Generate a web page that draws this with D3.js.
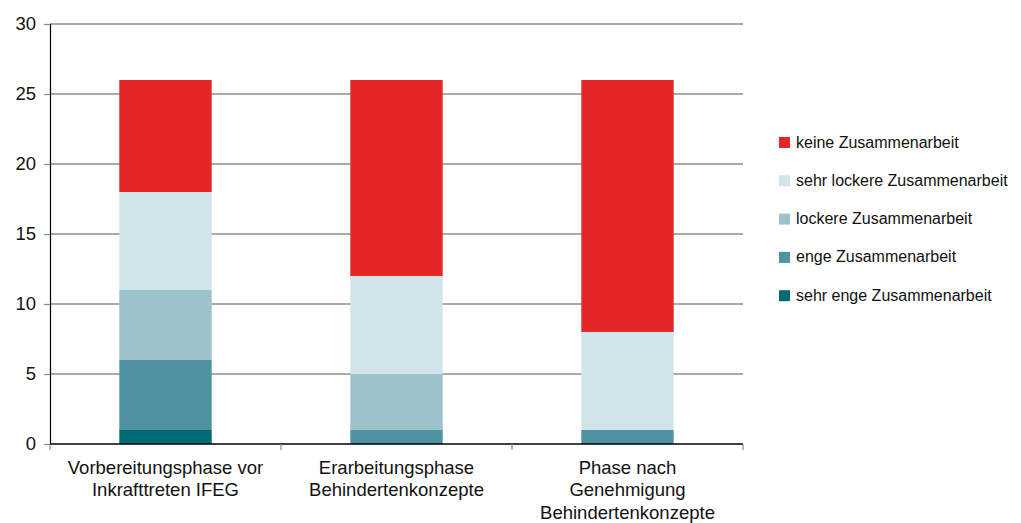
<!DOCTYPE html>
<html>
<head>
<meta charset="utf-8">
<script src="https://cdn.jsdelivr.net/npm/d3@7"></script>
<style>
  html, body { margin: 0; padding: 0; background: #fff; }
  svg { display: block; font-family: "Liberation Sans", Arial, sans-serif; }
</style>
</head>
<body>
<svg id="chart" width="1021" height="523"></svg>
<script>
// Phases (x categories), each label split into lines
const categories = [
  ["Vorbereitungsphase vor", "Inkrafttreten IFEG"],
  ["Erarbeitungsphase", "Behindertenkonzepte"],
  ["Phase nach", "Genehmigung", "Behindertenkonzepte"]
];

// Series, stacked from the bottom up
const seriesNames = [
  "sehr enge Zusammenarbeit",
  "enge Zusammenarbeit",
  "lockere Zusammenarbeit",
  "sehr lockere Zusammenarbeit",
  "keine Zusammenarbeit"
];
const sehrEng   = [1, 0, 0];
const eng       = [5, 1, 1];
const locker    = [5, 4, 0];
const sehrLocker= [7, 7, 7];
const keine     = [8, 14, 18];

const colors = ["#006A75", "#4F93A3", "#9CC2CA", "#D0E4E9", "#E32626"];
const yTicks = [0, 5, 10, 15, 20, 25, 30];

const values = [sehrEng, eng, locker, sehrLocker, keine];
const rows = categories.map((c, i) => {
  const r = { key: i };
  seriesNames.forEach((s, j) => r[s] = values[j][i]);
  return r;
});

const svg = d3.select("#chart");
const plotLeft = 50, plotRight = 743, plotTop = 24, plotBottom = 444;

const x = d3.scaleBand().domain(d3.range(categories.length))
  .range([plotLeft, plotRight]).paddingInner(0.6).paddingOuter(0.3);
const xEdges = d3.scaleLinear().domain([0, categories.length]).range([plotLeft, plotRight]);
const y = d3.scaleLinear().domain([0, 30]).range([plotBottom, plotTop]);

// Horizontal gridlines
svg.append("g").selectAll("line").data(yTicks.filter(d => d > 0)).join("line")
  .attr("x1", plotLeft).attr("x2", plotRight)
  .attr("y1", d => y(d)).attr("y2", d => y(d))
  .attr("stroke", "#8c8c8c").attr("stroke-width", 1.5);

// Stacked bars
const stack = d3.stack().keys(seriesNames)(rows);
svg.append("g").selectAll("g").data(stack).join("g")
  .attr("fill", (d, i) => colors[i])
  .selectAll("rect").data(d => d.filter(p => p[1] > p[0])).join("rect")
  .attr("x", d => x(d.data.key))
  .attr("width", x.bandwidth())
  .attr("y", d => y(d[1]))
  .attr("height", d => y(d[0]) - y(d[1]));

// Y axis
const yAxis = svg.append("g").attr("transform", `translate(${plotLeft},0)`)
  .call(d3.axisLeft(y).tickValues(yTicks).tickSize(6).tickPadding(8));
yAxis.attr("font-size", null).attr("font-family", null);
yAxis.select(".domain").attr("stroke", "#000").attr("stroke-width", 1.2);
yAxis.selectAll(".tick line").attr("stroke", "#8c8c8c").attr("stroke-width", 1.2);
yAxis.selectAll("text").style("font-size", "18.5px").attr("fill", "#111");

// X axis baseline with boundary ticks
svg.append("line").attr("x1", plotLeft).attr("x2", plotRight)
  .attr("y1", y(0)).attr("y2", y(0)).attr("stroke", "#000").attr("stroke-width", 1.5);
svg.append("g").selectAll("line").data(d3.range(categories.length + 1)).join("line")
  .attr("x1", d => xEdges(d)).attr("x2", d => xEdges(d))
  .attr("y1", y(0)).attr("y2", y(0) + 6)
  .attr("stroke", "#8c8c8c").attr("stroke-width", 1.2);

// Category labels
const xl = svg.append("g").selectAll("text").data(categories).join("text")
  .attr("text-anchor", "middle")
  .style("font-size", "18.5px").attr("fill", "#111")
  .attr("x", (d, i) => xEdges(i + 0.5))
  .attr("y", 474);
xl.selectAll("tspan").data(d => d).join("tspan")
  .attr("x", function() { return this.parentNode.getAttribute("x"); })
  .attr("dy", (d, i) => i === 0 ? 0 : 22.3)
  .text(d => d);

// Legend (top entry is the top of the stack)
const legendOrder = seriesNames.map((s, i) => ({ name: s, color: colors[i] })).reverse();
const lg = svg.append("g").selectAll("g").data(legendOrder).join("g")
  .attr("transform", (d, i) => `translate(779,${137 + i * 38.3})`);
lg.append("rect").attr("x", 0).attr("y", 0).attr("width", 11).attr("height", 11)
  .attr("fill", d => d.color);
lg.append("text").attr("x", 17).attr("y", 10.5)
  .style("font-size", "16px").attr("fill", "#111")
  .text(d => d.name);
</script>
</body>
</html>
